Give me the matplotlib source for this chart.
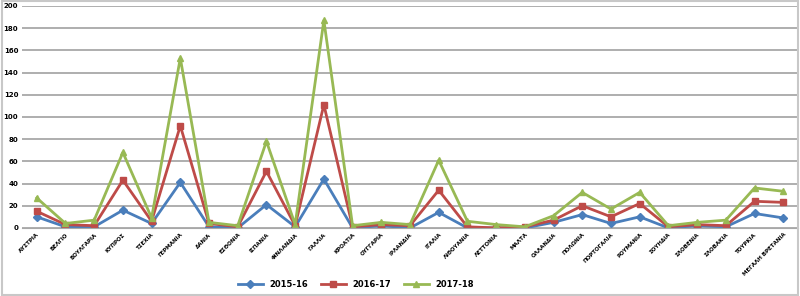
import numpy as np
import matplotlib.pyplot as plt

countries = ["ΑΥΣΤΡΙΑ", "ΒΕΛΓΙΟ", "ΒΟΥΛΓΑΡΙΑ", "ΚΥΠΡΟΣ", "ΤΣΕΧΙΑ", "ΓΕΡΜΑΝΙΑ",
             "ΔΑΝΙΑ", "ΕΣΘΟΝΙΑ", "ΙΣΠΑΝΙΑ", "ΦΙΝΛΑΝΔΙΑ", "ΓΑΛΛΙΑ", "ΚΡΟΑΤΙΑ",
             "ΟΥΓΓΑΡΙΑ", "ΙΡΛΑΝΔΙΑ", "ΙΤΑΛΙΑ", "ΛΙΘΟΥΑΝΙΑ", "ΛΕΤΤΟΝΙΑ", "ΜΑΛΤΑ",
             "ΟΛΛΑΝΔΙΑ", "ΠΟΛΩΝΙΑ", "ΠΟΡΤΟΓΑΛΙΑ", "ΡΟΥΜΑΝΙΑ", "ΣΟΥΗΔΙΑ",
             "ΣΛΟΒΕΝΙΑ", "ΣΛΟΒΑΚΙΑ", "ΤΟΥΡΚΙΑ", "ΜΕΓΑΛΗ ΒΡΕΤΑΝΙΑ"]

s2015 = [10, 1, 1, 16, 4, 41, 1, 0, 21, 1, 44, 0, 2, 0, 14, 0, 0, 0, 5, 12, 4, 10, 0, 2, 1, 13, 9]
s2016 = [15, 3, 2, 43, 6, 92, 4, 1, 51, 2, 111, 1, 3, 2, 34, 1, 0, 1, 7, 20, 10, 22, 1, 3, 2, 24, 23]
s2017 = [27, 4, 7, 68, 9, 153, 5, 2, 78, 3, 187, 2, 5, 3, 61, 6, 3, 1, 11, 32, 17, 32, 2, 5, 7, 36, 33]

labels = ["2015-16", "2016-17", "2017-18"]
colors = ["#4A7EBB", "#BE4B48", "#98B954"]
markers = ["D", "s", "^"]

fig = plt.figure(figsize=(8, 2.96), dpi=100)
ax = fig.add_axes([0.028, 0.23, 0.969, 0.75])

x = np.arange(len(countries))
for data, lab, c, m in zip([s2015, s2016, s2017], labels, colors, markers):
    ax.plot(x, data, color=c, marker=m, markersize=5 if m != "D" else 4,
            linewidth=2, label=lab)

ax.set_xlim(-0.5, len(countries) - 0.5)
ax.set_ylim(0, 200)
ax.set_yticks(np.arange(0, 201, 20))
ax.yaxis.grid(True, color="#A8A8A8", linewidth=1.3)
ax.set_axisbelow(True)
ax.set_xticks(x)
ax.set_xticklabels(countries, rotation=45, ha="right", rotation_mode="anchor",
                   fontsize=4, fontweight="bold")
for t in ax.get_yticklabels():
    t.set_fontsize(5)
    t.set_fontweight("bold")
ax.tick_params(length=0, pad=3)
for side in ["top", "right", "left"]:
    ax.spines[side].set_visible(False)
ax.spines["bottom"].set_color("#A8A8A8")

ax.legend(loc="lower center", bbox_to_anchor=(0.43, -0.31), ncol=3, frameon=False,
          prop={"size": 6, "weight": "bold"}, handlelength=3, columnspacing=1.5)

fig.patches.append(plt.Rectangle((0.002, 0.004), 0.996, 0.992, transform=fig.transFigure,
                                 fill=False, edgecolor="#C8C8C8", linewidth=1.5))

fig.savefig("out.png")
